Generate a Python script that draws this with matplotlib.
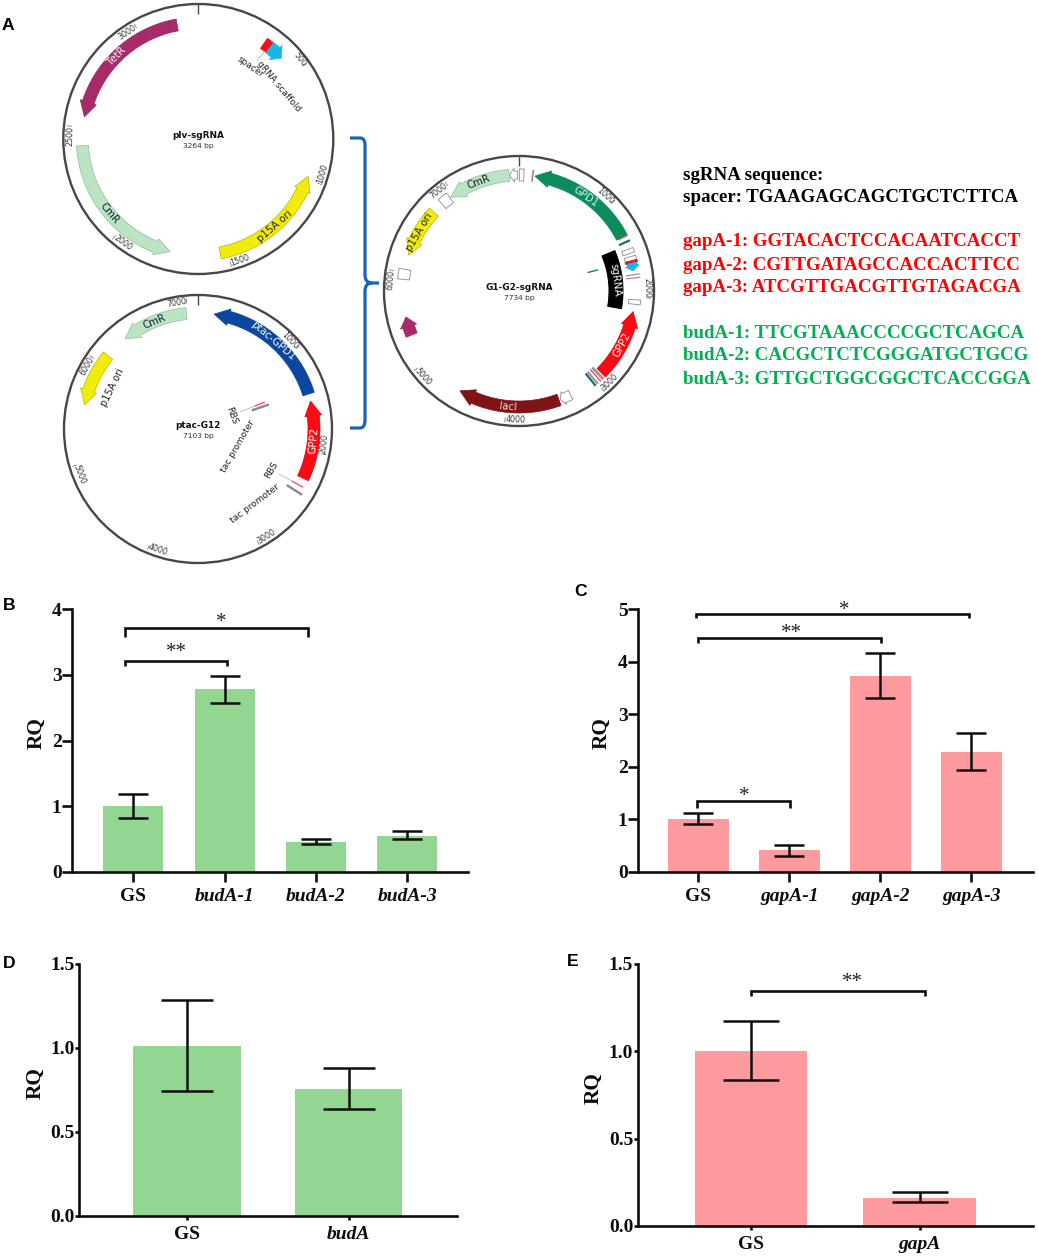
import numpy as np
import matplotlib
matplotlib.use("Agg")
import matplotlib.pyplot as plt
from matplotlib.patches import Polygon, Circle, PathPatch
from matplotlib.path import Path

W, H = 1038, 1257
SERIF = "Liberation Serif"
SANS = "DejaVu Sans"
GREEN = "#92D692"
PINK = "#FF9B9E"
INK = "#0d0d0d"

# ---------- bar chart data ----------
B_CATS = ["GS", "budA-1", "budA-2", "budA-3"]
B_VALS = [1.0, 2.78, 0.456, 0.553]
B_LOW = [0.826, 2.565, 0.426, 0.497]
B_HIGH = [1.186, 2.986, 0.497, 0.618]
B_BRACKETS = [(-0.09, 1.91, 3.71, 3.57), (-0.09, 1.03, 3.21, 3.14)]
B_STARS = [(0.96, 3.84, "*"), (0.47, 3.38, "**")]

C_CATS = ["GS", "gapA-1", "gapA-2", "gapA-3"]
C_VALS = [1.0, 0.406, 3.73, 2.28]
C_LOW = [0.91, 0.305, 3.31, 1.93]
C_HIGH = [1.11, 0.514, 4.16, 2.64]
C_BRACKETS = [(-0.02, 2.98, 4.905, 4.82), (0.0, 2.01, 4.44, 4.35), (-0.01, 1.01, 1.35, 1.21)]
C_STARS = [(1.6, 5.03, "*"), (1.02, 4.6, "**"), (0.51, 1.5, "*")]

D_CATS = ["GS", "budA"]
D_VALS = [1.014, 0.756]
D_LOW = [0.744, 0.635]
D_HIGH = [1.284, 0.879]

E_CATS = ["GS", "gapA"]
E_VALS = [1.004, 0.162]
E_LOW = [0.836, 0.135]
E_HIGH = [1.174, 0.193]
E_BRACKETS = [(0.0, 1.03, 1.347, 1.317)]
E_STARS = [(0.6, 1.41, "**")]

# ---------- plasmid data (positions in bp) ----------
P1_TOTAL = 3264
P1_NAMES = ["TetR", "CmR", "p15A ori"]
P1_TAIL = [3169, 2418, 1534]
P1_TIP = [2548, 1760, 986]
P1_TICKS = [500, 1000, 1500, 2000, 2500, 3000]

P2_TOTAL = 7103
P2_NAMES = ["CmR", "p15A ori", "ptac-GPD1", "GPP2"]
P2_TAIL = [6991, 6100, 1430, 2271]
P2_TIP = [6333, 5564, 158, 1501]
P2_TICKS = [1000, 2000, 3000, 4000, 5000, 6000, 7000]

P3_TOTAL = 7734
P3_NAMES = ["GPD1", "CmR", "p15A ori", "lacI", "GPP2"]
P3_TAIL = [1343, 7631, 6720, 3433, 2897]
P3_TIP = [169, 6961, 6187, 4525, 2153]
P3_TICKS = [1000, 2000, 3000, 4000, 5000, 6000, 7000]
P3_BOXES = [28, 6896, 5978, 1508, 1590, 2050]

SG_RED = [313, 1624]
GUIDE_LINES = ["gapA-1: GGTACACTCCACAATCACCT", "gapA-2: CGTTGATAGCCACCACTTCC", "gapA-3: ATCGTTGACGTTGTAGACGA"]
BUD_LINES = ["budA-1: TTCGTAAACCCCGCTCAGCA", "budA-2: CACGCTCTCGGGATGCTGCG", "budA-3: GTTGCTGGCGGCTCACCGGA"]

FEATURE_COLOR = {
    "TetR": ("#A82A68", "#8f2a5c", "white"),
    "CmR": ("#BDE4C2", "#8dbf99", "#123"),
    "p15A ori": ("#F2EC0A", "#b9b400", "#222"),
    "ptac-GPD1": ("#0B479E", "#0B479E", "white"),
    "GPP2": ("#FF0A14", "#e00010", "white"),
    "GPD1": ("#0C8C5C", "#0C8C5C", "#d8f5e6"),
    "lacI": ("#7F1417", "#7F1417", "#f5dddd"),
}

fig = plt.figure(figsize=(W / 100, H / 100), dpi=100, facecolor="white")
bg = fig.add_axes([0, 0, 1, 1])
bg.set_xlim(0, W)
bg.set_ylim(H, 0)
bg.axis("off")


def pol(c, total, bp, r):
    a = np.deg2rad(np.asarray(bp, float) / total * 360)
    return c[0] + r * np.sin(a), c[1] - r * np.cos(a)


def rot_for(deg):
    deg = deg % 360
    return 180 - deg if 90 < deg < 270 else -deg


def arrow(c, total, tail, tip, r=116, hw=6, headw=8.5, headlen=15, fc="k", ec="k", lw=0.5, z=3):
    sign = 1 if tip > tail else -1
    neck = tip - sign * headlen / (2 * np.pi * r) * total
    t = np.linspace(tail, neck, 50)
    ox, oy = pol(c, total, t, r + hw)
    ix, iy = pol(c, total, t[::-1], r - hw)
    pts = list(zip(ox, oy))
    pts.append(pol(c, total, neck, r + headw))
    pts.append(pol(c, total, tip, r))
    pts.append(pol(c, total, neck, r - headw))
    pts += list(zip(ix, iy))
    bg.add_patch(Polygon(pts, closed=True, fc=fc, ec=ec, lw=lw, zorder=z))


def block(c, total, b0, b1, r0, r1, fc="white", ec="#9a9a9a", lw=0.7, z=3):
    t = np.linspace(b0, b1, 20)
    ox, oy = pol(c, total, t, r1)
    ix, iy = pol(c, total, t[::-1], r0)
    bg.add_patch(Polygon(list(zip(ox, oy)) + list(zip(ix, iy)), closed=True, fc=fc, ec=ec, lw=lw, zorder=z))


def radial(c, total, bp, r0, r1, color, lw=0.8, z=4):
    x0, y0 = pol(c, total, bp, r0)
    x1, y1 = pol(c, total, bp, r1)
    bg.plot([x0, x1], [y0, y1], color=color, lw=lw, zorder=z, solid_capstyle="butt")


def label(c, total, bp, r, txt, rot=None, fs=6.5, color="#222"):
    x, y = pol(c, total, bp, r)
    if rot is None:
        rot = rot_for(bp / total * 360)
    bg.text(x, y, txt, rotation=rot, rotation_mode="anchor", ha="center", va="center",
            fontsize=fs, color=color, family=SANS, zorder=6)


def plasmid(c, R, total, names, tails, tips, ticks, title, sub, dy=(-3, 7), skip_labels=()):
    bg.add_patch(Circle(c, R, fc="none", ec="#474747", lw=1.7, zorder=2))
    radial(c, total, 0, R - 10, R, "#474747", lw=1.0)
    for t in ticks:
        radial(c, total, t, R - 8, R - 3, "#666666", lw=0.5)
        shift = 4.5 if t >= 1000 else 3.2
        b = t - shift / 360 * total
        label(c, total, b, R - 6.5, str(t), fs=5.7, color="#333")
    for n, tl, tp in zip(names, tails, tips):
        fc, ec, tc = FEATURE_COLOR[n]
        arrow(c, total, tl, tp, fc=fc, ec=ec)
        if n not in skip_labels:
            label(c, total, (tl + tp) / 2, 116, n, color=tc, fs=7.3)
    bg.text(c[0], c[1] + dy[0], title, ha="center", va="center", fontsize=6.4, weight="bold", family=SANS, color="#111")
    bg.text(c[0], c[1] + dy[1], sub, ha="center", va="center", fontsize=5.4, family=SANS, color="#333")


# --- plasmid 1 ---
c1 = (198.3, 139)
plasmid(c1, 135, P1_TOTAL, P1_NAMES, P1_TAIL, P1_TIP, P1_TICKS, "plv-sgRNA", "3264 bp")
block(c1, P1_TOTAL, SG_RED[0], 345, 110, 122, fc="#F4101A", ec="#F4101A")
arrow(c1, P1_TOTAL, 345, 415, fc="#17B6E6", ec="#17B6E6", hw=6.5, headw=9.5, headlen=8)
radial(c1, P1_TOTAL, 335, 97, 110, "#bbbbbb", lw=0.6)
label(c1, P1_TOTAL, 329, 89, "spacer", rot=-35)
label(c1, P1_TOTAL, 512, 96, "gRNA scaffold", rot=-50)

# --- plasmid 2 ---
c2 = (198, 429)
plasmid(c2, 134, P2_TOTAL, P2_NAMES, P2_TAIL, P2_TIP, P2_TICKS, "ptac-G12", "7103 bp", dy=(-3, 7), skip_labels=("p15A ori",))
label(c2, P2_TOTAL, 5835, 95, "p15A ori", rot=64, fs=7)
radial(c2, P2_TOTAL, 1342, 45, 61, "#bbbbbb", lw=0.6)
radial(c2, P2_TOTAL, 1342, 61, 72, "#F04050", lw=0.9)
radial(c2, P2_TOTAL, 1400, 57, 75, "#888888", lw=1.7)
radial(c2, P2_TOTAL, 2348, 92, 107, "#bbbbbb", lw=0.6)
radial(c2, P2_TOTAL, 2348, 107, 120, "#F04050", lw=0.9)
radial(c2, P2_TOTAL, 2413, 105, 123, "#888888", lw=1.7)
label(c2, P2_TOTAL, 1330, 36, "RBS", rot=-70)
label(c2, P2_TOTAL, 2243, 44, "tac promoter", rot=60)
label(c2, P2_TOTAL, 2350, 84, "RBS", rot=60)
label(c2, P2_TOTAL, 2812, 94, "tac promoter", rot=37)

# --- plasmid 3 ---
c3 = (519, 291)
plasmid(c3, 135, P3_TOTAL, P3_NAMES, P3_TAIL, P3_TIP, P3_TICKS, "G1-G2-sgRNA", "7734 bp", dy=(-3, 7))
arrow(c3, P3_TOTAL, 5321, 5523, fc="#A82A68", ec="#A82A68", headlen=10)
block(c3, P3_TOTAL, 1442, 2144, 90, 104, fc="black", ec="black")
label(c3, P3_TOTAL, 1793, 97, "sgRNA", color="white", fs=7.3)
arrow(c3, P3_TOTAL, 7720, 7631, r=116, hw=4, headw=7, headlen=5, fc="white", ec="#9a9a9a", lw=0.7)
arrow(c3, P3_TOTAL, 3300, 3420, r=116, hw=5, headw=7, headlen=4, fc="white", ec="#9a9a9a", lw=0.7)
for b in P3_BOXES:
    half = 54 if b in (6896, 5978) else 24
    block(c3, P3_TOTAL, b - half, b + half, 110, 122)
radial(c3, P3_TOTAL, 145, 110, 122, "#B07A9A", lw=1.2)
radial(c3, P3_TOTAL, 1611, 71, 82, "#1B7A7A", lw=1.0)
radial(c3, P3_TOTAL, 1350, 112, 122, "#F04050", lw=0.8)
radial(c3, P3_TOTAL, 1405, 110, 122, "#15707F", lw=1.6)
block(c3, P3_TOTAL, SG_RED[1] - 14, SG_RED[1] + 12, 110, 122, fc="#F4101A", ec="#F4101A")
arrow(c3, P3_TOTAL, 1636, 1719, fc="#17B6E6", ec="#17B6E6", hw=5, headw=7, headlen=5)
for b in (1760, 1795):
    radial(c3, P3_TOTAL, b, 108, 122, "#B07A9A", lw=0.8)
for b, col, w in ((2920, "#888888", 0.9), (2935, "#888888", 0.9), (2960, "#F04050", 0.9),
                  (3000, "#999999", 1.6), (3030, "#15707F", 1.6)):
    radial(c3, P3_TOTAL, b, 106, 122, col, lw=w)

# --- blue brace ---
verts = [(350, 138), (360, 138), (365, 138), (365, 145), (365, 275), (365, 283), (372, 283), (379, 283),
         (372, 283), (365, 283), (365, 291), (365, 420), (365, 428), (360, 428), (350, 428)]
codes = [Path.MOVETO, Path.LINETO, Path.CURVE3, Path.CURVE3, Path.LINETO, Path.CURVE3, Path.CURVE3, Path.LINETO,
         Path.MOVETO, Path.CURVE3, Path.CURVE3, Path.LINETO, Path.CURVE3, Path.CURVE3, Path.LINETO]
bg.add_patch(PathPatch(Path(verts, codes), fc="none", ec="#1565C0", lw=2.3, zorder=2))

# --- sequence text ---
def seq(x, y, s, color):
    bg.text(x, y, s, fontsize=13.55, weight="bold", family=SERIF, color=color, ha="left", va="center")

seq(683, 176, "sgRNA sequence:", "black")
seq(683, 198, "spacer: TGAAGAGCAGCTGCTCTTCA", "black")
for y, s in zip((242, 265, 288), GUIDE_LINES):
    seq(683, y, s, "#FF0000")
for y, s in zip((333, 356, 379), BUD_LINES):
    seq(683, y, s, "#00B050")

for x, y, s in (((2), 25, "A"), (3, 605, "B"), (574, 591, "C"), (3, 964, "D"), (567, 961, "E")):
    bg.text(x, y, s, fontsize=12.6, weight="bold", family="Liberation Sans", ha="left", va="center", color="black")


def chart(box, cats, vals, low, high, color, ymax, yticks, fmt, first, step, barw, cap,
          rqx, rqy, brackets=(), stars=(), ticklen=7):
    l, r, top, bottom = box
    ax = fig.add_axes([l / W, 1 - bottom / H, (r - l) / W, (bottom - top) / H])
    ax.set_facecolor("none")
    ax.set_xlim((l - first) / step, (r - first) / step)
    ax.set_ylim(0, ymax)
    x = np.arange(len(cats))
    ax.bar(x, vals, width=barw / step, color=color, linewidth=0, zorder=1)
    v = np.array(vals)
    ax.errorbar(x, v, yerr=[v - np.array(low), np.array(high) - v], fmt="none", ecolor=INK,
                elinewidth=1.8, capsize=cap / 2 * 0.72, capthick=1.8, zorder=3)
    for s in ("top", "right"):
        ax.spines[s].set_visible(False)
    for s in ("left", "bottom"):
        ax.spines[s].set_linewidth(1.9)
        ax.spines[s].set_color(INK)
    ax.set_xticks(x)
    ax.set_xticklabels(cats)
    ax.set_yticks(yticks)
    ax.set_yticklabels([fmt.format(t) for t in yticks])
    ax.tick_params(axis="y", length=ticklen, width=1.9, color=INK, pad=0.5)
    ax.tick_params(axis="x", length=ticklen, width=1.9, color=INK, pad=4.5)
    for t in ax.get_yticklabels():
        t.set(family=SERIF, weight="bold", fontsize=14, color=INK)
    for t, name in zip(ax.get_xticklabels(), cats):
        t.set(family=SERIF, weight="bold", fontsize=14, color=INK, style="normal" if name == "GS" else "italic")
    bg.text(rqx, rqy, "RQ", rotation=90, ha="center", va="center", family=SERIF, weight="bold", fontsize=15.3, color=INK)
    for x0, x1, y, yleg in brackets:
        ax.plot([x0, x0, x1, x1], [yleg, y, y, yleg], color=INK, lw=1.9, solid_joinstyle="miter", solid_capstyle="butt", zorder=4, clip_on=False)
    for xs, ys, s in stars:
        ax.annotate(s, (xs, ys), xytext=(0, -5.5), textcoords="offset points", ha="center", va="baseline",
                    family=SERIF, fontsize=15, color="#222", annotation_clip=False)
    return ax


chart((72, 468, 609, 872), B_CATS, B_VALS, B_LOW, B_HIGH, GREEN, 4, [0, 1, 2, 3, 4], "{:.0f}",
      133.3, 91.3, 60, 30, 37, 733, B_BRACKETS, B_STARS)
chart((638, 1033, 609, 871.7), C_CATS, C_VALS, C_LOW, C_HIGH, PINK, 5, [0, 1, 2, 3, 4, 5], "{:.0f}",
      698.3, 91, 60.7, 30, 602, 733, C_BRACKETS, C_STARS)
chart((79.3, 457, 964, 1216), D_CATS, D_VALS, D_LOW, D_HIGH, GREEN, 1.5, [0, 0.5, 1.0, 1.5], "{:.1f}",
      187, 161.7, 107.5, 53, 36, 1083, ticklen=3)
chart((638, 1033, 964, 1226), E_CATS, E_VALS, E_LOW, E_HIGH, PINK, 1.5, [0, 0.5, 1.0, 1.5], "{:.1f}",
      751, 168.7, 112.5, 55.7, 594, 1088, E_BRACKETS, E_STARS, ticklen=3)

fig.savefig("out.png", dpi=100)
